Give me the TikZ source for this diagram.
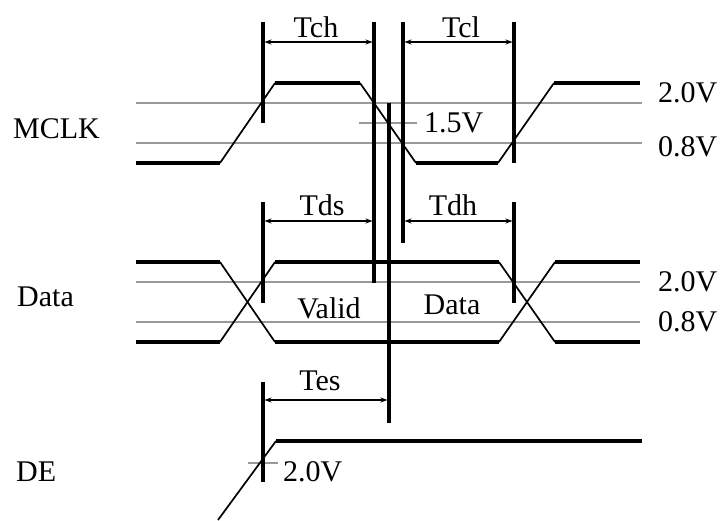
\documentclass[tikz,border=0pt]{standalone}
\usepackage{fontspec}
\setmainfont{Liberation Serif}
\usetikzlibrary{arrows.meta, positioning}
\tikzstyle{level} = [draw, line width=3.5pt]
\tikzstyle{edge} = [draw, line width=1.7pt]
\tikzstyle{ref} = [draw, gray!80, line width=2.8pt]
\tikzstyle{marker} = [draw, line width=3.4pt]
\tikzstyle{span} = [draw, line width=1.3pt, {Stealth[length=7pt,width=5pt]}-{Stealth[length=7pt,width=5pt]}]
\tikzstyle{lbl} = [inner sep=0pt, font=\fontsize{30}{32}\selectfont]

\begin{document}
\begin{tikzpicture}[x=1pt, y=-1pt]
			\useasboundingbox (0,0) rectangle (721,520);

			% reference levels
			\path [ref] (136,103) -- (642,103);
			\path [ref] (136,143) -- (642,143);
			\path [ref] (136,282) -- (640,282);
			\path [ref] (136,322) -- (640,322);
			\path [ref] (359,123) -- (417,123);
			\path [ref] (248,463) -- (278,463);

			% MCLK
			\coordinate (m0) at (136,163);
			\coordinate (m1) at (220,163);
			\coordinate (m2) at (275,83);
			\coordinate (m3) at (360,83);
			\coordinate (m4) at (416,163);
			\coordinate (m5) at (498,163);
			\coordinate (m6) at (554,83);
			\coordinate (m7) at (640,83);
			\path [level] (m0) -- (m1);
			\path [level] (m2) -- (m3);
			\path [level] (m4) -- (m5);
			\path [level] (m6) -- (m7);
			\path [edge] (m1) -- (m2);
			\path [edge] (m3) -- (m4);
			\path [edge] (m5) -- (m6);

			% Data
			\coordinate (dh0) at (136,262);
			\coordinate (dh1) at (220,262);
			\coordinate (dh2) at (275,262);
			\coordinate (dh3) at (499,262);
			\coordinate (dh4) at (555,262);
			\coordinate (dh5) at (640,262);
			\coordinate (dl0) at (136,342);
			\coordinate (dl1) at (220,342);
			\coordinate (dl2) at (275,342);
			\coordinate (dl3) at (499,342);
			\coordinate (dl4) at (555,342);
			\coordinate (dl5) at (640,342);
			\path [level] (dh0) -- (dh1);
			\path [level] (dh2) -- (dh3);
			\path [level] (dh4) -- (dh5);
			\path [level] (dl0) -- (dl1);
			\path [level] (dl2) -- (dl3);
			\path [level] (dl4) -- (dl5);
			\path [edge] (dh1) -- (dl2);
			\path [edge] (dl1) -- (dh2);
			\path [edge] (dh3) -- (dl4);
			\path [edge] (dl3) -- (dh4);

			% DE
			\coordinate (e0) at (218,520);
			\coordinate (e1) at (276,441);
			\coordinate (e2) at (642,441);
			\path [edge] (e0) -- (e1);
			\path [level] (e1) -- (e2);

			% timing markers
			\path [marker] (263,22) -- (263,123);
			\path [marker] (374,22) -- (374,283);
			\path [marker] (389,103) -- (389,423);
			\path [marker] (403,22) -- (403,243);
			\path [marker] (514,22) -- (514,163);
			\path [marker] (263,202) -- (263,303);
			\path [marker] (514,202) -- (514,303);
			\path [marker] (263,382) -- (263,482);

			% spans
			\coordinate (chl) at (264.5,42);
			\coordinate (chr) at (372.5,42);
			\coordinate (cll) at (404.5,42);
			\coordinate (clr) at (512.5,42);
			\coordinate (dsl) at (264.5,221);
			\coordinate (dsr) at (372.5,221);
			\coordinate (dhl) at (404.5,221);
			\coordinate (dhr) at (512.5,221);
			\coordinate (esl) at (264.5,400);
			\coordinate (esr) at (387.5,400);
			\path [span] (chl) -- (chr);
			\path [span] (cll) -- (clr);
			\path [span] (dsl) -- (dsr);
			\path [span] (dhl) -- (dhr);
			\path [span] (esl) -- (esr);

			% labels
			\node [lbl] (tch) at (316,27) {Tch};
			\node [lbl] (tcl) at (461,27) {Tcl};
			\node [lbl] (tds) at (322,205) {Tds};
			\node [lbl] (tdh) at (453,205) {Tdh};
			\node [lbl] (tes) at (320,381) {Tes};
			\node [lbl] (valid) at (329,308) {Valid};
			\node [lbl] (data) at (452,305) {Data};
			\node [lbl, anchor=west] (mclk) at (13,129) {MCLK};
			\node [lbl, anchor=west] (dsig) at (17,297) {Data};
			\node [lbl, anchor=west] (de) at (16,472) {DE};
			\node [lbl, anchor=west] (mhi) at (658,93) {2.0V};
			\node [lbl, anchor=west] (mlo) at (658,147) {0.8V};
			\node [lbl, anchor=west] (dhi) at (658,282) {2.0V};
			\node [lbl, anchor=west] (dlo) at (658,322) {0.8V};
			\node [lbl, anchor=west] (mid) at (424,123) {1.5V};
			\node [lbl, anchor=west] (ehi) at (283,472) {2.0V};
\end{tikzpicture}
\end{document}
